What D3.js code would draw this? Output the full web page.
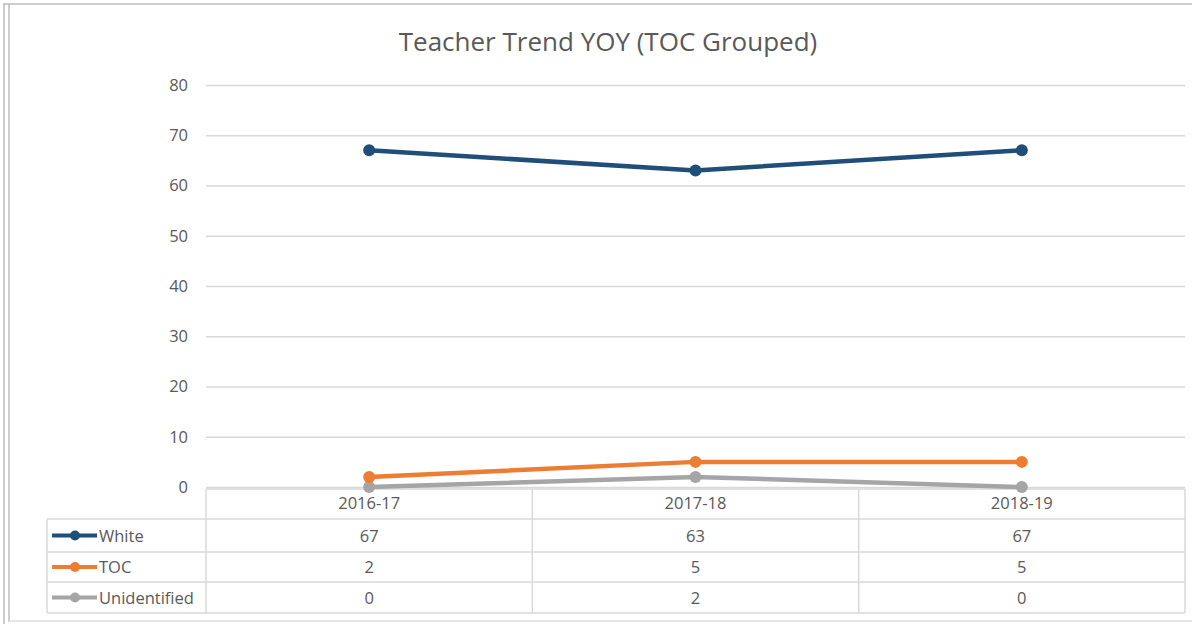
<!DOCTYPE html>
<html><head><meta charset="utf-8">
<script src="https://cdn.jsdelivr.net/npm/d3@7"></script>
<style>html,body{margin:0;padding:0;background:#fff;}svg{display:block;}</style>
</head><body><svg id="c" width="1192" height="624"></svg>
<script>
const categories = ["2016-17", "2017-18", "2018-19"];
const seriesNames = ["White", "TOC", "Unidentified"];
const whiteValues = [67, 63, 67];
const tocValues = [2, 5, 5];
const unidentifiedValues = [0, 2, 0];
const yTicks = [0, 10, 20, 30, 40, 50, 60, 70, 80];
const colors = ["#1F4E79", "#ED7D31", "#A5A5A5"];

const series = [whiteValues, tocValues, unidentifiedValues].map((v, i) => ({name: seriesNames[i], values: v, color: colors[i]}));

const svg = d3.select("#c");
const font = "'Open Sans', 'Liberation Sans', sans-serif";
const textColor = "#595959";
const gridColor = "#d9d9d9";
const fs = 16.5;

// frame
svg.append("line").attr("x1",4).attr("x2",4).attr("y1",3).attr("y2",624).attr("stroke","#bdbdbd").attr("stroke-width",1.5);
svg.append("line").attr("x1",9).attr("x2",9).attr("y1",4).attr("y2",622).attr("stroke","#bdbdbd").attr("stroke-width",1.5);
svg.append("line").attr("x1",4).attr("x2",1192).attr("y1",4).attr("y2",4).attr("stroke","#bdbdbd").attr("stroke-width",1.5);
svg.append("line").attr("x1",9).attr("x2",1192).attr("y1",621).attr("y2",621).attr("stroke","#e6e6e6").attr("stroke-width",2);

const pLeft = 206, pRight = 1185, pTop = 85, pBottom = 487;
const x = d3.scaleBand().domain(categories).range([pLeft, pRight]);
const y = d3.scaleLinear().domain([0, 80]).range([pBottom, pTop]);

// title
svg.append("text").attr("x", 608).attr("y", 51).attr("text-anchor","middle")
  .attr("font-family", font).attr("font-size", 26).attr("fill", textColor)
  .text("Teacher Trend YOY (TOC Grouped)");

// gridlines
const yAxis = d3.axisLeft(y).tickValues(yTicks).tickSize(-(pRight - pLeft)).tickPadding(18);
const gy = svg.append("g").attr("transform", `translate(${pLeft},0)`).call(yAxis);
gy.select(".domain").remove();
gy.selectAll(".tick line").attr("stroke", gridColor).attr("stroke-width", 1.5);
gy.selectAll(".tick text").attr("font-family", font).attr("font-size", fs).attr("fill", textColor);

// table
const rowYs = [489, 519, 552, 582, 613];
const tg = svg.append("g");
const lineAttr = s => s.attr("stroke", gridColor).attr("stroke-width", 1.5);
lineAttr(tg.append("line").attr("x1", pLeft).attr("x2", pRight).attr("y1", rowYs[0]).attr("y2", rowYs[0]));
for (let i = 1; i < rowYs.length; i++) {
  lineAttr(tg.append("line").attr("x1", 47).attr("x2", pRight).attr("y1", rowYs[i]).attr("y2", rowYs[i]));
}
lineAttr(tg.append("line").attr("x1", 47).attr("x2", 47).attr("y1", rowYs[1]).attr("y2", rowYs[4]));
categories.forEach(c => {
  lineAttr(tg.append("line").attr("x1", x(c)).attr("x2", x(c)).attr("y1", rowYs[0]).attr("y2", rowYs[4]));
});
lineAttr(tg.append("line").attr("x1", pRight).attr("x2", pRight).attr("y1", rowYs[0]).attr("y2", rowYs[4]));

categories.forEach(c => {
  tg.append("text").attr("x", x(c) + x.bandwidth()/2).attr("y", (rowYs[0]+rowYs[1])/2 + 5)
    .attr("text-anchor","middle").attr("font-family", font).attr("font-size", fs).attr("fill", textColor).text(c);
});
series.forEach((s, i) => {
  const cy = (rowYs[i+1] + rowYs[i+2]) / 2;
  tg.append("line").attr("x1", 52).attr("x2", 97).attr("y1", cy).attr("y2", cy)
    .attr("stroke", s.color).attr("stroke-width", 4);
  tg.append("circle").attr("cx", 75).attr("cy", cy).attr("r", 5).attr("fill", s.color);
  tg.append("text").attr("x", 99).attr("y", cy + 6).attr("font-family", font).attr("font-size", fs)
    .attr("fill", textColor).text(s.name);
  s.values.forEach((v, j) => {
    tg.append("text").attr("x", x(categories[j]) + x.bandwidth()/2).attr("y", cy + 6)
      .attr("text-anchor","middle").attr("font-family", font).attr("font-size", fs).attr("fill", textColor).text(v);
  });
});

const line = d3.line().x((d, j) => x(categories[j]) + x.bandwidth()/2).y(d => y(d));
series.slice().reverse().forEach(s => {
  svg.append("path").datum(s.values).attr("d", line).attr("fill","none")
    .attr("stroke", s.color).attr("stroke-width", 4.5).attr("stroke-linejoin","round").attr("stroke-linecap","round");
  svg.selectAll(null).data(s.values).enter().append("circle")
    .attr("cx", (d, j) => x(categories[j]) + x.bandwidth()/2).attr("cy", d => y(d)).attr("r", 6).attr("fill", s.color);
});
</script></body></html>
